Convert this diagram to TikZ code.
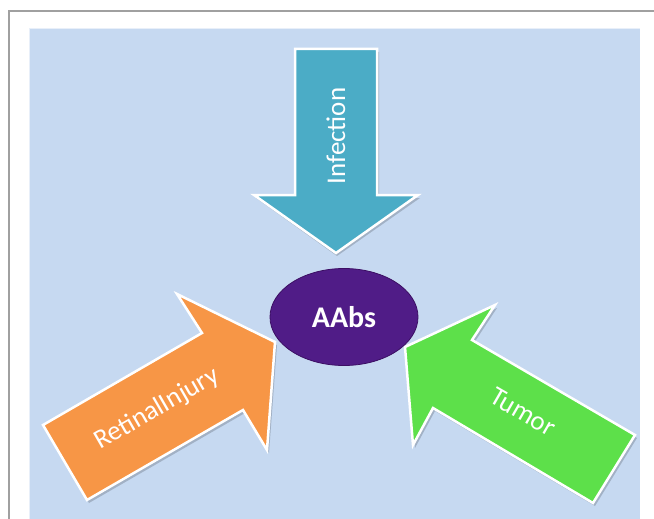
\documentclass[tikz,border=0pt]{standalone}
\usepackage{fontspec}
\setmainfont{Carlito}
\usepackage{xcolor}
\usetikzlibrary{shapes.geometric}
\definecolor{bgblue}{RGB}{198,217,241}
\definecolor{infteal}{RGB}{75,172,198}
\definecolor{injorange}{RGB}{247,150,70}
\definecolor{tumgreen}{RGB}{93,224,74}
\definecolor{aabpurple}{RGB}{80,28,135}
\tikzset{
  blockarrow/.style={draw=white, line width=2.5pt, line join=miter},
  arrowshadow/.style={fill=black, fill opacity=0.18, draw=none},
  arrowlabel/.style={text=white, inner sep=0pt, font=\fontsize{27}{32}\selectfont}
}
\begin{document}
\begin{tikzpicture}[x=1pt,y=1pt,yscale=-1]
        \useasboundingbox (0,0) rectangle (654,519);

        %Frame lines
        \draw [color={rgb,255:red,160;green,160;blue,160}, line width=1.2pt] (9,519) -- (9,11) -- (654,11) ;
        %Shape: Rectangle [id:background]
        \fill [bgblue] (29,28) rectangle (640,530) ;
        \draw [white, opacity=0.6, line width=0.8pt] (29,530) -- (29,28) -- (640,28) -- (640,530) ;

        %Shape: Down Arrow [id:infection]
        \fill [arrowshadow] (297,52) -- (379,52) -- (379,198) -- (420,198) -- (337,256) -- (256,198) -- (297,198) -- cycle ;
        \draw [blockarrow, fill=infteal] (295,49) -- (377,49) -- (377,195) -- (418,195) -- (336,253) -- (254,195) -- (295,195) -- cycle ;

        %Shape: Right Arrow [id:injury]
        \fill [arrowshadow] (45,428) -- (204,336) -- (179,297) -- (277,345) -- (269,453) -- (245,413) -- (89,503) -- cycle ;
        \draw [blockarrow, fill=injorange] (43,425) -- (202,333) -- (177,294) -- (275,342) -- (267,450) -- (243,410) -- (87,500) -- cycle ;

        %Shape: Left Arrow [id:tumor]
        \fill [arrowshadow] (637,438) -- (474,343) -- (497,308) -- (407,350) -- (415,448) -- (435,411) -- (595,506) -- cycle ;
        \draw [blockarrow, fill=tumgreen] (635,435) -- (472,340) -- (495,305) -- (405,347) -- (413,445) -- (433,408) -- (593,503) -- cycle ;

        %Shape: Ellipse [id:aabs]
        \node (aabs) [ellipse, fill=aabpurple, draw={rgb,255:red,60;green,15;blue,100}, line width=0.8pt, minimum width=148pt, minimum height=97pt, inner sep=0pt] at (344,317) {} ;

        % Text Node
        \node (aabslabel) [text=white, inner sep=0pt, font=\bfseries\fontsize{30}{36}\selectfont] at (aabs.center) {AAbs};
        % Text Node
        \node (inflabel) [arrowlabel, rotate=90] at (336,136) {Infection};
        % Text Node
        \node (injlabel) [arrowlabel, rotate=30] at (157,409) {RetinalInjury};
        % Text Node
        \node (tumlabel) [arrowlabel, rotate=-30] at (523,412) {Tumor};

\end{tikzpicture}
\end{document}
